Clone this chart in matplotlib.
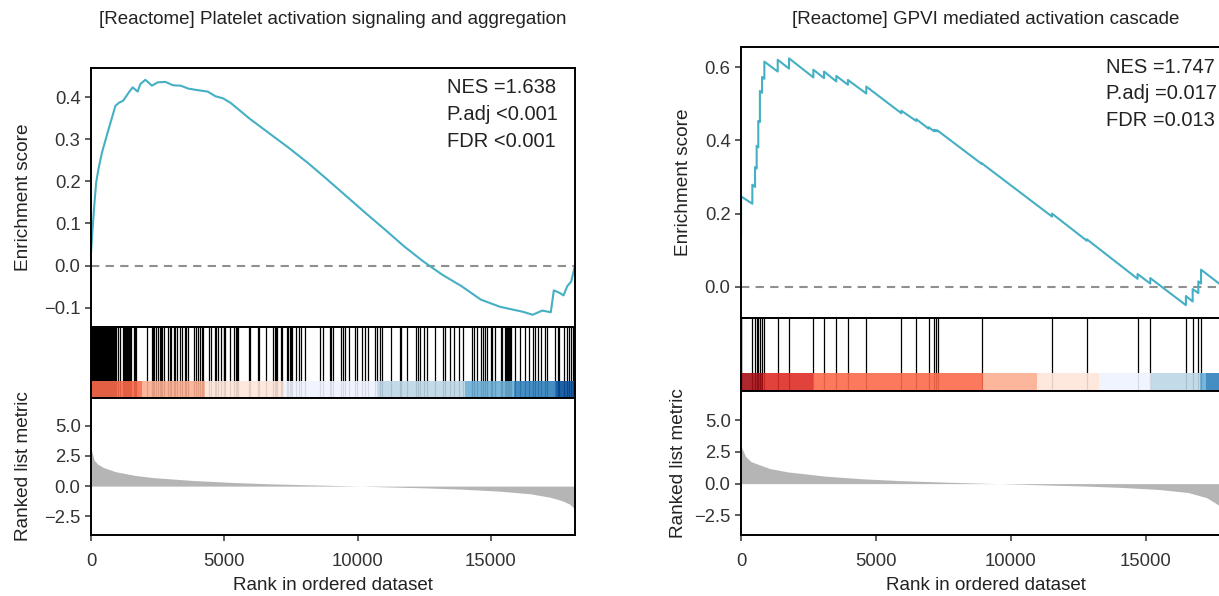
import matplotlib.pyplot as plt
from matplotlib.patches import Rectangle

plt.rcParams['font.family'] = ['Liberation Sans', 'DejaVu Sans']

n_genes = 18150

# ---- left: Platelet activation signaling and aggregation ----
title1 = "[Reactome] Platelet activation signaling and aggregation"
stats1 = ["NES =1.638", "P.adj <0.001", "FDR <0.001"]

es1_rank = [0, 49, 121, 193, 280, 410, 553, 698, 842, 914, 1058, 1202, 1418, 1563,
            1750, 1851, 2039, 2285, 2502, 2790, 3078, 3367, 3655, 3944, 4376, 4664,
            4952, 5240, 5962, 6683, 7404, 8125, 8847, 9568, 10290, 11011, 11732,
            12454, 12814, 13175, 13894, 14617, 15338, 15915, 16204, 16564, 16924,
            17242, 17356, 17573, 17718, 17862, 18007, 18150]
es1_val = [0.03, 0.078, 0.141, 0.197, 0.229, 0.268, 0.300, 0.332, 0.363, 0.379, 0.387,
           0.391, 0.411, 0.423, 0.413, 0.431, 0.441, 0.427, 0.435, 0.436, 0.428, 0.427,
           0.420, 0.417, 0.413, 0.402, 0.397, 0.386, 0.348, 0.314, 0.280, 0.244, 0.205,
           0.165, 0.125, 0.086, 0.046, 0.010, -0.006, -0.022, -0.049, -0.081, -0.098,
           -0.106, -0.110, -0.117, -0.107, -0.111, -0.059, -0.065, -0.071, -0.049,
           -0.038, 0.0]

hits1 = [5, 40, 75, 110, 150, 185, 225, 260, 300, 335, 375, 410, 450, 485, 525, 560,
         600, 640, 675, 715, 750, 790, 825, 865, 900, 940, 994, 1106, 1200, 1240, 1280,
         1315, 1350, 1390, 1425, 1460, 1500, 1610, 1650, 1690,
         2100, 2290, 2325, 2380, 2455, 2510, 2570, 2625, 2680, 2740, 2890, 2945, 3000,
         3095, 3150, 3235, 3340, 3395, 3525, 3580, 3640, 3860, 3920, 3995, 4070, 4145,
         4200,
         4414, 4511, 4650, 4699, 4763, 4864, 4976, 5006, 5036, 5201, 5351, 5438, 5475,
         5513, 5925, 5974, 6263, 6311, 6574, 6825, 6889, 6938, 6975, 7114, 7163,
         7350, 7388, 7451, 7511, 7556, 7699, 7789, 7886, 8014, 8576, 8700, 8951, 9011,
         9075, 9386, 9450, 9536, 9686, 9889, 9964, 10163, 10264, 10388, 10661, 10725,
         10849, 10924, 11261, 11576, 11636, 11861, 12188, 12251, 12326, 12476, 12600,
         12911, 13200, 13286, 13451, 13613, 13789, 13950,
         14288, 14363, 14486, 14636, 14689, 14786, 14839, 14989, 15049, 15161, 15364,
         15424, 15536, 15574, 15611, 15649, 15686, 15724, 15761,
         15911, 16076, 16264, 16414, 16575, 16639, 16763, 16886, 17036, 17111, 17389,
         17513, 17550, 17726, 17861, 17925, 18011, 18075]

strip1_edges = [0, 1928, 4260, 7245, 10748, 14018, 15863, 17450, 18150]
strip1_cols = ["#FB6A4A", "#FCAE91", "#FEE5D9", "#EFF3FF", "#BDD7E7", "#6BAED6",
               "#3182BD", "#08519C"]

metric1_rank = [0, 121, 265, 481, 914, 1635, 2356, 3798, 5240, 6683, 8125, 9567,
                10144, 11010, 12452, 13894, 15337, 16491, 17212, 17644, 17933, 18077,
                18150]
metric1_val = [3.1, 2.14, 1.8, 1.53, 1.2, 0.89, 0.7, 0.47, 0.31, 0.19, 0.11, 0.03,
               0.0, -0.06, -0.14, -0.25, -0.42, -0.64, -0.92, -1.19, -1.47, -1.75,
               -2.17]

# ---- right: GPVI mediated activation cascade ----
title2 = "[Reactome] GPVI mediated activation cascade"
stats2 = ["NES =1.747", "P.adj =0.017", "FDR =0.013"]

es2_rank = [1, 2, 420, 420, 520, 520, 580, 580, 640, 640, 700, 700, 780, 780, 865, 865,
            1360, 1360, 1780, 1780, 2680, 2680, 3075, 3075, 3530, 3530, 3960, 3960,
            4640, 4640, 5940, 5940, 6490, 6490, 6950, 6950, 7150, 7150, 7220, 7220,
            7280, 7280, 8910, 8910, 11520, 11520, 12810, 12810, 14690, 14690, 15160,
            15160, 16480, 16480, 16730, 16730, 16940, 16940, 17040, 17040, 17780, 18150]
es2_val = [0.138, 0.247, 0.227, 0.279, 0.273, 0.327, 0.323, 0.385, 0.381, 0.453,
           0.450, 0.535, 0.530, 0.573, 0.568, 0.615, 0.588, 0.620, 0.596, 0.624,
           0.572, 0.593, 0.570, 0.588, 0.561, 0.576, 0.552, 0.565, 0.528, 0.547,
           0.474, 0.481, 0.453, 0.458, 0.432, 0.436, 0.425, 0.429, 0.425, 0.428,
           0.425, 0.427, 0.336, 0.338, 0.192, 0.200, 0.126, 0.130, 0.022, 0.035,
           0.009, 0.024, -0.050, -0.025, -0.040, -0.006, -0.017, 0.015, 0.009, 0.047,
           0.005, -0.015]

hits2 = [1, 2, 420, 520, 580, 640, 700, 780, 865, 1360, 1780, 2680, 3075, 3530, 3960,
         4640, 5940, 6490, 6950, 7150, 7220, 7280, 8910, 11520, 12810, 14690, 15160,
         16480, 16730, 16940, 17040]

strip2_edges = [0, 803, 2678, 8950, 10950, 13260, 15185, 17000, 17215, 18150]
strip2_cols = ["#A50F15", "#DE2D26", "#FB6A4A", "#FCAE91", "#FEE5D9", "#EFF3FF",
               "#BDD7E7", "#6BAED6", "#3182BD"]

metric2_rank = [0, 169, 374, 1060, 1745, 3119, 4491, 5862, 7234, 8605, 9567, 11350,
                12720, 14093, 15464, 16561, 17250, 17660, 18150]
metric2_val = [2.95, 2.14, 1.73, 1.19, 0.92, 0.59, 0.38, 0.24, 0.14, 0.05, 0.0, -0.11,
               -0.19, -0.3, -0.46, -0.7, -1.11, -1.65, -2.6]

W, H = 1219, 596
line_col = "#45B0C4"
txt_col = "#222222"


def px_axes(fig, x0, y0, x1, y1):
    return fig.add_axes([x0 / W, 1 - y1 / H, (x1 - x0) / W, (y1 - y0) / H])


def style(ax):
    for s in ax.spines.values():
        s.set_linewidth(1.4)
        s.set_color("black")
    ax.tick_params(length=4, width=1.1, labelsize=13.3, colors="#333333",
                   labelcolor="#333333")
    ax.tick_params(axis="x", pad=9)


def gsea_panel(fig, x0, x1, ys, title, stats, stat_pos, es_r, es_v, hits, edges,
               cols, m_r, m_v, es_ylim, es_ticks, lab_x):
    y0, y1, y2, y3 = ys
    ax1 = px_axes(fig, x0, y0, x1, y1)
    ax2 = px_axes(fig, x0, y1, x1, y2)
    ax3 = px_axes(fig, x0, y2, x1, y3)

    fig.text((x0 + x1) / 2 / W, 1 - 20 / H, title, ha="center", va="center",
             fontsize=13.5, color=txt_col)

    # running enrichment score
    ax1.axhline(0, color="#8f8f8f", lw=1.5, ls=(0, (4, 3)))
    ax1.plot(es_r, es_v, color=line_col, lw=1.5)
    ax1.set_xlim(0, n_genes)
    ax1.set_ylim(*es_ylim)
    ax1.set_yticks(es_ticks)
    ax1.set_xticks([])
    ax1.set_ylabel("Enrichment score", fontsize=13.7, color=txt_col)
    ax1.yaxis.set_label_coords(lab_x[0], 0.5)
    sx, sy, sdy = stat_pos
    for i, s in enumerate(stats):
        ax1.text(sx, sy - i * sdy, s, transform=ax1.transAxes, ha="left",
                 va="center", fontsize=14.5, color=txt_col)
    style(ax1)

    # gene hits and colour strip
    ax2.vlines(hits, 0, 1, color="black", lw=0.9, zorder=1)
    for i, c in enumerate(cols):
        ax2.add_patch(Rectangle((edges[i], 0), edges[i + 1] - edges[i], 0.24,
                                facecolor=c, edgecolor="none", alpha=0.9, zorder=2))
    ax2.set_xlim(0, n_genes)
    ax2.set_ylim(0, 1)
    ax2.set_xticks([])
    ax2.set_yticks([])
    style(ax2)

    # ranked list metric
    ax3.fill_between(m_r, m_v, 0, color="#b5b5b6", lw=0)
    ax3.set_xlim(0, n_genes)
    ax3.set_ylim(-4.05, 7.3)
    ax3.set_yticks([-2.5, 0, 2.5, 5.0])
    ax3.set_xticks([0, 5000, 10000, 15000])
    ax3.set_xlabel("Rank in ordered dataset", fontsize=13.5, color=txt_col,
                   labelpad=5)
    ax3.set_ylabel("Ranked list metric", fontsize=13.7, color=txt_col)
    ax3.yaxis.set_label_coords(lab_x[1], 0.5)
    style(ax3)


fig = plt.figure(figsize=(W / 100, H / 100), dpi=100)

gsea_panel(fig, 91, 575, (68, 327, 398, 535), title1, stats1, (0.735, 0.923, 0.104),
           es1_rank, es1_val, hits1, strip1_edges, strip1_cols, metric1_rank,
           metric1_val, (-0.146, 0.469), [-0.1, 0.0, 0.1, 0.2, 0.3, 0.4],
           (-0.122, -0.122))
gsea_panel(fig, 741, 1231, (47, 318, 391, 535), title2, stats2, (0.745, 0.926, 0.098),
           es2_rank, es2_val, hits2, strip2_edges, strip2_cols, metric2_rank,
           metric2_val, (-0.085, 0.655), [0.0, 0.2, 0.4, 0.6], (-0.100, -0.110))

fig.savefig("out.png", dpi=100)
